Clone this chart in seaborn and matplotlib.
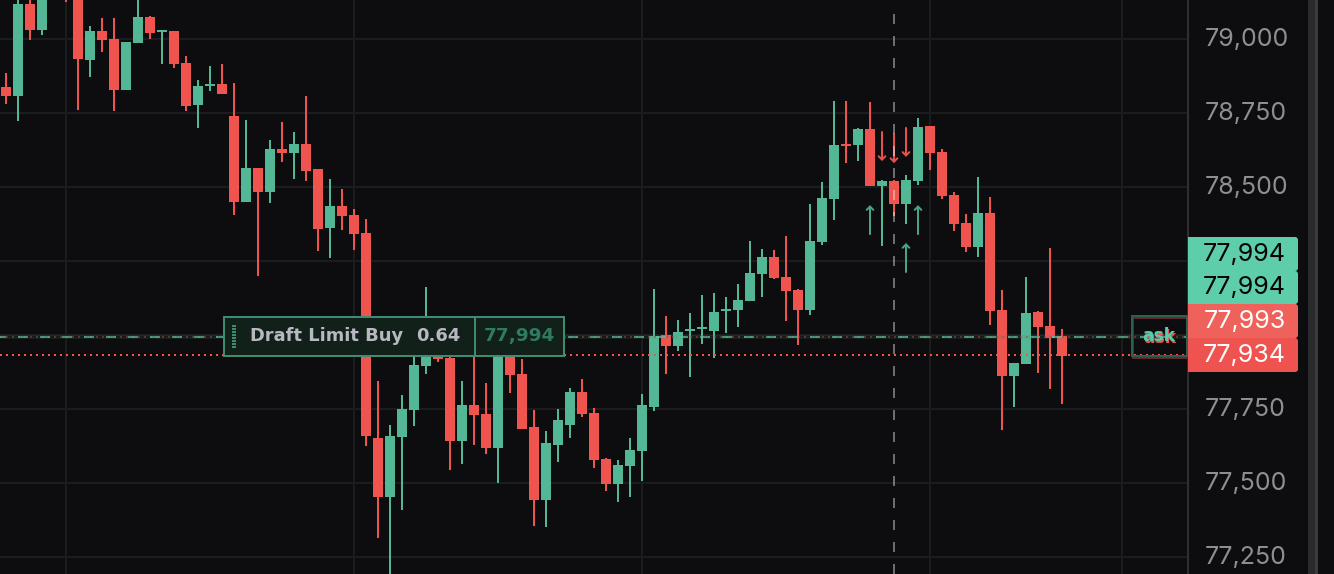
import numpy as np
import pandas as pd
import matplotlib
matplotlib.use("Agg")
import matplotlib.pyplot as plt
from matplotlib.patches import Rectangle, FancyBboxPatch
from matplotlib.transforms import Affine2D, ScaledTranslation
import seaborn as sns

opens = [78837,78807,79117,79030,79199,79232,79172,78928,79026,78999,78827,78986,79074,79023,79026,78918,78776,78840,78847,78739,
         78449,78563,78482,78628,78614,78644,78560,78361,78435,78405,78344,77651,77452,77655,77746,77894,77955,77922,77641,77763,
         77732,77617,77965,77867,77688,77442,77628,77695,77807,77736,77580,77496,77557,77607,77756,78000,77962,78013,78019,78013,
         78080,78084,78114,78205,78263,78195,78151,78084,78313,78459,78644,78641,78695,78503,78519,78442,78519,78705,78617,78472,
         78378,78297,78411,78084,77861,77901,78077,78030,77996]
highs = [78884,79158,79158,79172,79300,79300,79199,79043,79070,79070,78989,79148,79077,79030,79026,78942,78861,78908,78915,78851,
         78726,78563,78658,78719,78685,78807,78560,78526,78492,78425,78391,77844,77695,77797,77949,78161,77965,77955,77844,78016,
         77837,78000,77982,77918,77746,77675,77749,77820,77851,77753,77584,77577,77651,77800,78155,78063,78050,78074,78134,78141,
         78128,78172,78317,78290,78286,78334,78155,78442,78516,78790,78790,78699,78786,78523,78523,78540,78732,78705,78628,78482,
         78408,78533,78465,78151,77905,78195,78080,78293,78019]
lows = [78780,78722,78996,79013,79178,79124,78759,78871,78955,78756,78827,78986,78999,78915,78901,78756,78699,78824,78813,78405,
        78449,78199,78445,78584,78526,78519,78283,78259,78354,78286,77624,77313,77155,77408,77692,77867,77908,77543,77563,77628,
        77597,77499,77803,77682,77354,77351,77570,77651,77722,77550,77472,77435,77452,77506,77742,77867,77945,77857,77969,77922,
        78006,78026,78114,78128,78188,78047,77965,78067,78303,78388,78580,78587,78503,78300,78401,78374,78506,78557,78459,78351,
        78280,78263,78033,77678,77756,77901,77871,77817,77766]
closes = [78807,79117,79030,79145,79266,79165,78932,79026,78996,78827,78989,79074,79019,79030,78915,78773,78840,78847,78813,78449,
          78563,78482,78628,78614,78644,78553,78357,78435,78401,78340,77658,77452,77658,77749,77898,77958,77918,77641,77763,77729,
          77617,77982,77864,77682,77442,77634,77712,77807,77732,77577,77496,77560,77611,77763,77996,77962,78009,78019,78026,78077,
          78087,78118,78209,78263,78192,78148,78084,78317,78462,78641,78638,78695,78503,78519,78442,78523,78702,78614,78469,78374,
          78297,78411,78080,77861,77905,78074,78026,77989,77928]

price_ticks = [77250,77500,77750,78000,78250,78500,78750,79000]
price_tick_labels = ["77,250","77,500","77,750","","","78,500","78,750","79,000"]
time_grid = [5,29,53,77,93]

ask_price = 77994
ask_price_2 = 77993
bid_price = 77931
cross_idx = 74
cross_top = 79090

down_idx = [73,74,75]
down_from = [78685,78678,78699]
down_to = [78587,78580,78601]
up_idx = [72,76,75]
up_from = [78340,78340,78212]
up_to = [78438,78438,78310]

tag_texts = ["77,994","77,994","77,993","77,934"]
order_label = "Draft Limit Buy"
order_qty = "0.64"
order_price = "77,994"

GREEN = "#53b796"
RED = "#f0544f"
BG = "#0d0d10"
GRID = "#1b1c1e"
ARROW = "->,head_length=0.2,head_width=0.2"

W, H = 1334, 574
PX = 0.72

sns.set_theme(style="dark", rc={"axes.facecolor": BG, "figure.facecolor": BG, "savefig.facecolor": BG})
plt.rcParams["font.family"] = ["Inter", "DejaVu Sans"]

df = pd.DataFrame({"open": opens, "high": highs, "low": lows, "close": closes})
df["idx"] = np.arange(len(df))
df["lo"] = df[["open", "close"]].min(axis=1)
df["hi"] = df[["open", "close"]].max(axis=1)
df["height"] = df["hi"] - df["lo"]
up = df[df["close"] >= df["open"]]
down = df[df["close"] < df["open"]]

fig = plt.figure(figsize=(W / 100, H / 100), dpi=100)
ax = fig.add_axes([0, 0, 1188 / W, 1])

for sub, col in ((up, GREEN), (down, RED)):
    ax.vlines(sub["idx"], sub["low"], sub["high"], color=col, linewidth=2 * PX, zorder=2)
    sns.barplot(x=sub["idx"].to_numpy(), y=sub["height"].to_numpy(), bottom=sub["lo"].to_numpy(),
                native_scale=True, width=10 / 12, color=col, saturation=1, errorbar=None,
                linewidth=0, ax=ax, zorder=2.1)

ax.set_xlim(-0.5, 98.5)
ax.set_ylim(79131 - 574 * 250 / 74, 79131)
ax.set_xlabel("")
ax.set_ylabel("")
ax.set_xticks(time_grid)
ax.set_xticklabels([])
ax.set_yticks(price_ticks)
ax.set_yticklabels(price_tick_labels)
ax.yaxis.tick_right()
ax.tick_params(axis="y", length=0, pad=12.2, labelsize=18, labelcolor="#8f8f8f")
ax.tick_params(axis="x", length=0)
ax.grid(True, color=GRID, linewidth=2 * PX, zorder=0)
ax.set_axisbelow(True)
for s in ("top", "bottom", "left"):
    ax.spines[s].set_visible(False)
ax.spines["right"].set_color("#2e2f31")
ax.spines["right"].set_linewidth(2 * PX)
lift = ScaledTranslation(0, 2 / 100, fig.dpi_scale_trans)
for lab in ax.get_yticklabels():
    lab.set_transform(lab.get_transform() + lift)

# price lines
ax.axhline(ask_price, color="#3d8a72", alpha=0.14, linewidth=4 * PX, zorder=3)
ax.axhline(ask_price_2, color="#b5423f", alpha=0.5, linewidth=2 * PX, linestyle=(0, (1, 2)),
           dash_capstyle="butt", zorder=3)
ax.axhline(ask_price, color="#5fc2a2", alpha=0.68, linewidth=2 * PX, linestyle=(2, (5, 6)),
           dash_capstyle="butt", zorder=3.1)
ax.axhline(bid_price, color=RED, linewidth=2 * PX, linestyle=(0, (1, 2)), dash_capstyle="butt", zorder=3)

# crosshair
ax.vlines(cross_idx, ax.get_ylim()[0], cross_top, color="#ffffff", alpha=0.4, linewidth=2 * PX,
          linestyle=(0, (5, 6)), zorder=4)

# arrows
for i, a, b in zip(down_idx, down_from, down_to):
    ax.annotate("", xy=(i, b), xytext=(i, a), zorder=3.5,
                arrowprops=dict(arrowstyle=ARROW, color="#e8504c", lw=2 * PX, shrinkA=0, shrinkB=0))
for i, a, b in zip(up_idx, up_from, up_to):
    ax.annotate("", xy=(i, b), xytext=(i, a), zorder=3.5,
                arrowprops=dict(arrowstyle=ARROW, color="#47a487", lw=2 * PX, shrinkA=0, shrinkB=0))

# overlays placed in screen pixels
px = Affine2D().scale(1, -1).translate(0, H)

def rect(x0, y0, x1, y1, **kw):
    p = Rectangle((x0, y0), x1 - x0, y1 - y0, transform=px, **kw)
    fig.add_artist(p)
    return p

def label(x, y, s, **kw):
    tx, ty = px.transform((x, y))
    fig.text(tx / W, ty / H, s, **kw)

# scrollbar strip
rect(1308, 0, 1315, H, facecolor="#292a2b", edgecolor="none", zorder=1)
rect(1315, 0, 1318, H, facecolor="#3a3b3c", edgecolor="none", zorder=1)

# order ticket
rect(224, 317, 564, 356, facecolor="#12201a", edgecolor="#3f8b72", linewidth=2 * PX, zorder=6)
rect(473.5, 317, 474.5, 356, facecolor="#3f8b72", edgecolor="#3f8b72", linewidth=PX, zorder=7)
for y in range(325, 349, 3):
    rect(232, y, 236, y + 1.6, facecolor="#3f8b72", edgecolor="none", zorder=7)
bold = dict(family="DejaVu Sans", fontweight="bold", va="center", zorder=8)
label(250, 336, order_label, ha="left", fontsize=12.85, color="#b8b8c0", **bold)
label(460, 336, order_qty, ha="right", fontsize=12.85, color="#b8b8c0", **bold)
label(519.5, 336, order_price, ha="center", fontsize=13.2, color="#2f7a62", **bold)

# ask badge
rect(1133, 318, 1187, 358, facecolor="none", edgecolor="#5c2b2a", linewidth=2 * PX, zorder=6)
rect(1132, 316, 1187, 356, facecolor="none", edgecolor="#2f5f51", linewidth=2 * PX, zorder=6.1)
label(1159.5, 338, "ask", ha="center", fontsize=12.3, color="#ef5350", **bold)
label(1159, 336, "ask", ha="center", fontsize=12.3, color="#5ccaa8", **bold)

# price tags
tag_boxes = [(237, 271, "#5dcdaa", "#050505"), (271, 304, "#5dcdaa", "#050505"),
             (304, 338, "#ef615b", "#ffffff"), (338, 372, "#ef5350", "#ffffff")]
for (y0, y1, fc, tc), s in zip(tag_boxes, tag_texts):
    fig.add_artist(FancyBboxPatch((1190, y0), 108, y1 - y0, boxstyle="round,pad=0,rounding_size=3",
                                  transform=px, facecolor=fc, edgecolor="none", zorder=9))
    rect(1188, y0, 1240, y1, facecolor=fc, edgecolor="none", zorder=9)
    label(1286, (y0 + y1) / 2 + 0.5, s, ha="right", va="center", fontsize=18, color=tc, zorder=10)

fig.savefig("out.png", dpi=100)
